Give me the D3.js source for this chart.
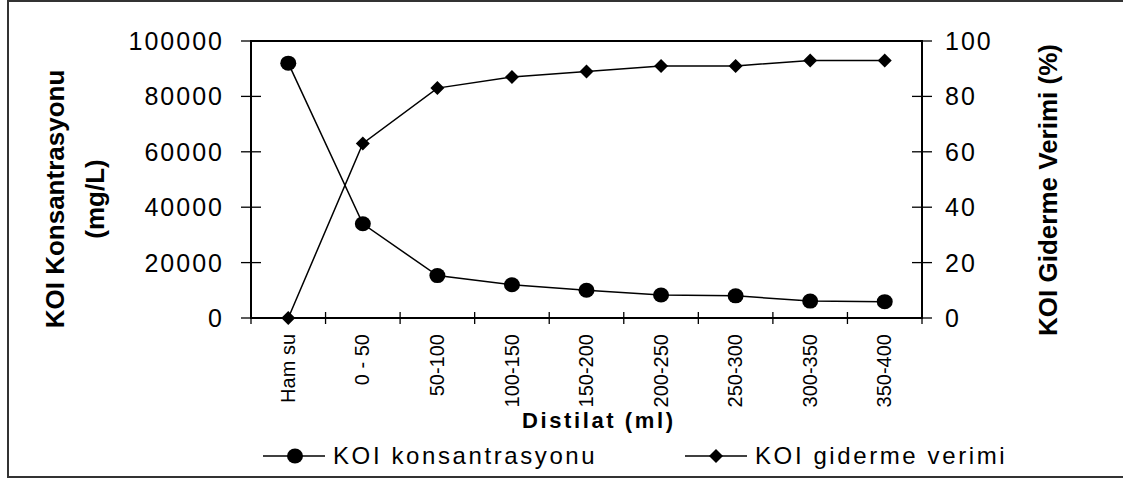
<!DOCTYPE html>
<html>
<head>
<meta charset="utf-8">
<script src="https://cdn.jsdelivr.net/npm/d3@7"></script>
<style>
  html, body { margin: 0; padding: 0; background: #fff; }
  svg { display: block; font-family: "Liberation Sans", Arial, sans-serif; }
</style>
</head>
<body>
<div id="chart"></div>
<script>
// categories and series
const categories = ['Ham su', '0 - 50', '50-100', '100-150', '150-200', '200-250', '250-300', '300-350', '350-400']
const konsantrasyon = [92000, 34000, 15300, 12000, 10000, 8300, 8000, 6100, 5900]
const verim = [0, 63, 83, 87, 89, 91, 91, 93, 93]
const leftTicks = [0, 20000, 40000, 60000, 80000, 100000]
const rightTicks = [0, 20, 40, 60, 80, 100]
const seriesNames = ['KOI konsantrasyonu', 'KOI giderme verimi']

const width = 1123
const height = 480
const plot = { left: 251, right: 922, top: 41, bottom: 318 }

const svg = d3.select('#chart').append('svg')
  .attr('width', width)
  .attr('height', height)

// outer frame (right edge runs off the page)
svg.append('path')
  .attr('d', `M${width + 5},1 H8 V477 H${width + 5}`)
  .attr('fill', 'none')
  .attr('stroke', '#333')
  .attr('stroke-width', 2)

const x = d3.scaleBand().domain(categories).range([plot.left, plot.right])
const yLeft = d3.scaleLinear().domain([0, 100000]).range([plot.bottom, plot.top])
const yRight = d3.scaleLinear().domain([0, 100]).range([plot.bottom, plot.top])

// plot area box
svg.append('rect')
  .attr('x', plot.left)
  .attr('y', plot.top)
  .attr('width', plot.right - plot.left)
  .attr('height', plot.bottom - plot.top)
  .attr('fill', 'none')
  .attr('stroke', '#000')
  .attr('stroke-width', 2)

// left axis: ticks cross the axis line
svg.append('g')
  .selectAll('line')
  .data(leftTicks)
  .join('line')
  .attr('x1', plot.left - 10)
  .attr('x2', d => d === 100000 ? plot.left : plot.left + 10)
  .attr('y1', d => yLeft(d))
  .attr('y2', d => yLeft(d))
  .attr('stroke', '#000')
  .attr('stroke-width', 1.3)

svg.append('g')
  .selectAll('text')
  .data(leftTicks)
  .join('text')
  .attr('x', 224)
  .attr('y', d => yLeft(d))
  .attr('dy', '0.36em')
  .attr('text-anchor', 'end')
  .attr('font-size', 25)
  .attr('letter-spacing', 2)
  .text(d => d)

// right axis
svg.append('g')
  .selectAll('line')
  .data(rightTicks)
  .join('line')
  .attr('x1', d => d === 100 ? plot.right : plot.right - 10)
  .attr('x2', plot.right + 10)
  .attr('y1', d => yRight(d))
  .attr('y2', d => yRight(d))
  .attr('stroke', '#000')
  .attr('stroke-width', 1.3)

svg.append('g')
  .selectAll('text')
  .data(rightTicks)
  .join('text')
  .attr('x', 945)
  .attr('y', d => yRight(d))
  .attr('dy', '0.36em')
  .attr('text-anchor', 'start')
  .attr('font-size', 25)
  .attr('letter-spacing', 2)
  .text(d => d)

// x axis ticks at band edges
const edges = categories.map(c => x(c)).concat([x.range()[1]])
svg.append('g')
  .selectAll('line')
  .data(edges)
  .join('line')
  .attr('x1', d => d)
  .attr('x2', d => d)
  .attr('y1', plot.bottom - 6)
  .attr('y2', plot.bottom + 6)
  .attr('stroke', '#000')
  .attr('stroke-width', 1.3)

svg.append('g')
  .selectAll('text')
  .data(categories)
  .join('text')
  .attr('transform', d => `translate(${x(d) + x.bandwidth() / 2},334) rotate(-90)`)
  .attr('dy', '0.33em')
  .attr('text-anchor', 'end')
  .attr('font-size', 20)
  .text(d => d)

// axis titles
const leftTitle = svg.append('text')
  .attr('transform', 'translate(64,199) rotate(-90)')
  .attr('text-anchor', 'middle')
  .attr('font-size', 26)
  .attr('font-weight', 'bold')
leftTitle.append('tspan').attr('x', 0).attr('y', 0).text('KOI Konsantrasyonu')
leftTitle.append('tspan').attr('x', 0).attr('y', 40).text('(mg/L)')

svg.append('text')
  .attr('transform', 'translate(1057,190) rotate(-90)')
  .attr('text-anchor', 'middle')
  .attr('font-size', 26)
  .attr('font-weight', 'bold')
  .text('KOI Giderme Verimi (%)')

svg.append('text')
  .attr('x', 522)
  .attr('y', 428)
  .attr('font-size', 22)
  .attr('font-weight', 'bold')
  .attr('letter-spacing', 2.6)
  .text('Distilat (ml)')

// series
const cx = d => x(d) + x.bandwidth() / 2
const lineLeft = d3.line().x(d => cx(d[0])).y(d => yLeft(d[1]))
const lineRight = d3.line().x(d => cx(d[0])).y(d => yRight(d[1]))
const konsData = categories.map((c, i) => [c, konsantrasyon[i]])
const verimData = categories.map((c, i) => [c, verim[i]])

svg.append('path')
  .attr('d', lineLeft(konsData))
  .attr('fill', 'none')
  .attr('stroke', '#000')
  .attr('stroke-width', 1.5)

svg.append('path')
  .attr('d', lineRight(verimData))
  .attr('fill', 'none')
  .attr('stroke', '#000')
  .attr('stroke-width', 1.5)

const diamond = 'M0,-7 L7,0 L0,7 L-7,0 Z'

svg.append('g')
  .selectAll('ellipse')
  .data(konsData)
  .join('ellipse')
  .attr('cx', d => cx(d[0]))
  .attr('cy', d => yLeft(d[1]))
  .attr('rx', 8)
  .attr('ry', 7.5)
  .attr('fill', '#000')

svg.append('g')
  .selectAll('path')
  .data(verimData)
  .join('path')
  .attr('transform', d => `translate(${cx(d[0])},${yRight(d[1])})`)
  .attr('d', diamond)
  .attr('fill', '#000')

// legend
const legend = svg.append('g')
const legendItems = [
  { name: seriesNames[0], x0: 263, kind: 'circle' },
  { name: seriesNames[1], x0: 685, kind: 'diamond' }
]
legendItems.forEach(item => {
  const g = legend.append('g').attr('transform', `translate(${item.x0},456)`)
  g.append('line')
    .attr('x1', 0).attr('x2', 62)
    .attr('stroke', '#000').attr('stroke-width', 1.5)
  if (item.kind === 'circle') {
    g.append('ellipse').attr('cx', 32).attr('rx', 8).attr('ry', 7.5).attr('fill', '#000')
  } else {
    g.append('path').attr('transform', 'translate(31,0)').attr('d', diamond).attr('fill', '#000')
  }
  g.append('text')
    .attr('x', 70)
    .attr('y', 8)
    .attr('font-size', 24)
    .attr('letter-spacing', 2.6)
    .text(item.name)
})
</script>
</body>
</html>
